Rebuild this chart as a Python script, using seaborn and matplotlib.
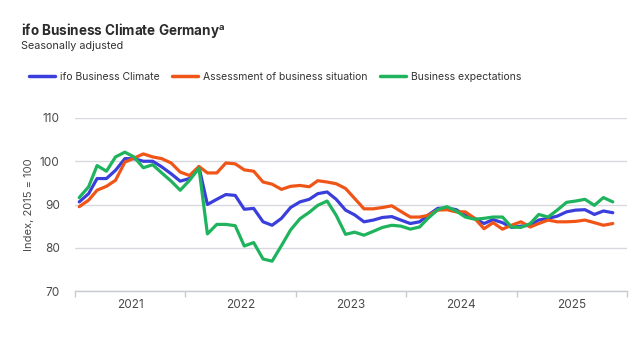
import pandas as pd
import numpy as np
import matplotlib
matplotlib.use("Agg")
import matplotlib.pyplot as plt
import seaborn as sns

# Monthly values, Jan 2021 - Nov 2025 (2015 = 100)
months = pd.date_range("2021-01-01", periods=59, freq="MS") + pd.Timedelta(days=14)

climate = [90.6, 92.5, 96.0, 96.0, 97.9, 100.6, 100.6, 100.0, 100.0, 98.7, 97.1, 95.4,
           96.0, 98.7, 90.0, 91.2, 92.3, 92.1, 88.9, 89.1, 86.0, 85.2, 86.8, 89.3,
           90.6, 91.2, 92.5, 92.9, 91.2, 88.7, 87.6, 86.0, 86.4, 87.0, 87.2, 86.4,
           85.6, 86.0, 87.6, 89.1, 89.2, 88.8, 87.5, 86.8, 85.6, 86.5, 85.8, 84.7,
           85.0, 85.2, 86.4, 86.8, 87.3, 88.3, 88.7, 88.8, 87.7, 88.5, 88.1]

situation = [89.5, 91.0, 93.3, 94.2, 95.6, 99.8, 100.7, 101.7, 101.0, 100.6, 99.6, 97.5,
             96.7, 98.8, 97.3, 97.3, 99.6, 99.4, 98.0, 97.7, 95.2, 94.7, 93.5, 94.2,
             94.4, 94.1, 95.5, 95.2, 94.8, 93.7, 91.4, 89.0, 89.0, 89.3, 89.7, 88.4,
             87.1, 87.1, 87.5, 88.7, 88.8, 88.3, 88.3, 86.8, 84.4, 85.8, 84.3, 85.2,
             86.0, 84.8, 85.6, 86.4, 86.0, 86.0, 86.1, 86.4, 85.8, 85.2, 85.6]

expectations = [91.6, 94.1, 99.0, 97.7, 101.0, 102.1, 101.0, 98.5, 99.2, 97.3, 95.4, 93.3,
                95.6, 98.4, 83.2, 85.4, 85.4, 85.1, 80.4, 81.2, 77.4, 76.9, 80.5, 84.1,
                86.7, 88.2, 89.8, 90.8, 87.5, 83.1, 83.6, 82.9, 83.8, 84.7, 85.2, 85.0,
                84.3, 84.8, 86.9, 88.8, 89.5, 88.5, 87.1, 86.6, 86.8, 87.1, 87.1, 84.8,
                84.7, 85.6, 87.7, 87.1, 88.7, 90.5, 90.8, 91.2, 89.8, 91.6, 90.6]

series_names = ["ifo Business Climate", "Assessment of business situation", "Business expectations"]
colors = ["#3a3fdc", "#f05518", "#1fb35e"]
years = [2021, 2022, 2023, 2024, 2025]

df = pd.DataFrame({"date": months, series_names[0]: climate,
                   series_names[1]: situation, series_names[2]: expectations})
long = df.melt(id_vars="date", var_name="series", value_name="value")

sns.set_theme(style="white")
plt.rcParams["font.family"] = ["Inter", "DejaVu Sans"]

fig = plt.figure(figsize=(6.4, 3.52), dpi=100)
ax = fig.add_axes([75 / 640, 1 - 291 / 352, 552 / 640, 173 / 352])

sns.lineplot(data=long, x="date", y="value", hue="series", hue_order=series_names,
             palette=colors, linewidth=2.3, ax=ax, legend=False)

ax.set_ylim(70, 110)
ax.set_yticks([70, 80, 90, 100, 110])
ax.set_xlim(pd.Timestamp("2021-01-01"), pd.Timestamp("2026-01-01"))
ax.yaxis.grid(True, color="#d8d9e0", linewidth=1)
ax.xaxis.grid(False)
for s in ["top", "right", "left"]:
    ax.spines[s].set_visible(False)
ax.spines["bottom"].set_color("#c8cad2")
ax.spines["bottom"].set_linewidth(1)

# year boundary ticks and centered year labels
ax.set_xticks([pd.Timestamp(f"{y}-01-01") for y in years + [2026]])
ax.set_xticklabels([])
ax.set_xticks([pd.Timestamp(f"{y}-07-02") for y in years], minor=True)
ax.set_xticklabels([str(y) for y in years], minor=True)
ax.tick_params(axis="x", which="major", length=4, color="#c8cad2", width=1, bottom=True)
ax.tick_params(axis="x", which="minor", length=0, pad=6, labelsize=8.5, labelcolor="#4a4a4a")
ax.tick_params(axis="y", length=0, pad=11, labelsize=8.5, labelcolor="#4a4a4a")
ax.set_xlabel("")
ax.set_ylabel("Index, 2015 = 100", fontsize=8, color="#4a4a4a", labelpad=4)

fig.text(21 / 640, 1 - 35 / 352, r"ifo Business Climate Germany$^{\mathregular{a}}$",
         fontsize=9.7, fontweight="bold", color="#2a2a2a", va="baseline")
fig.text(21 / 640, 1 - 49 / 352, "Seasonally adjusted", fontsize=7.8,
         color="#333333", va="baseline")

handles = [plt.Line2D([], [], color=c, linewidth=2.5) for c in colors]
fig.legend(handles, series_names, loc="center left", bbox_to_anchor=(29 / 640, 1 - 77 / 352),
           ncol=3, frameon=False, fontsize=7.5, handlelength=2.5, handletextpad=0.5,
           columnspacing=1.15, borderpad=0, borderaxespad=0, labelcolor="#333333")

fig.savefig("out.png", dpi=100, facecolor="white")
